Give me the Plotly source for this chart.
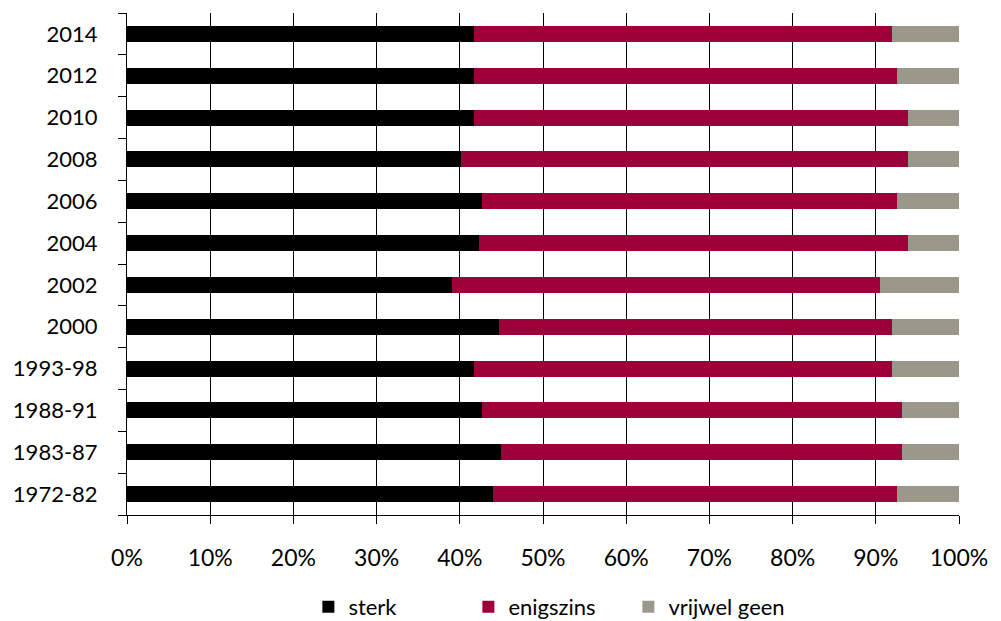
import plotly.graph_objects as go

categories = ["1972-82", "1983-87", "1988-91", "1993-98", "2000", "2002",
              "2004", "2006", "2008", "2010", "2012", "2014"]
sterk = [44.0, 45.0, 42.7, 41.7, 44.7, 39.1, 42.3, 42.7, 40.1, 41.7, 41.7, 41.7]
enigszins = [48.5, 48.2, 50.5, 50.2, 47.2, 51.4, 51.6, 49.8, 53.8, 52.2, 50.8, 50.2]
vrijwel_geen = [7.5, 6.8, 6.8, 8.1, 8.1, 9.5, 6.1, 7.5, 6.1, 6.1, 7.5, 8.1]

series = [("sterk", sterk, "#000000"),
          ("enigszins", enigszins, "#9E003A"),
          ("vrijwel geen", vrijwel_geen, "#9C978B")]

FONT = "Lato"

fig = go.Figure()
for name, vals, col in series:
    fig.add_trace(go.Bar(y=categories, x=vals, name=name, orientation="h",
                         marker=dict(color=col, line=dict(width=0))))

fig.update_layout(
    width=1001, height=621,
    barmode="stack", bargap=0.62,
    margin=dict(l=127, r=42, t=13, b=106, autoexpand=False),
    paper_bgcolor="white", plot_bgcolor="white",
    font=dict(family=FONT, size=22, color="black"),
    showlegend=True,
    legend=dict(orientation="h", x=0.218, xanchor="left", y=-0.183, yanchor="middle",
                font=dict(size=22), entrywidth=115, entrywidthmode="pixels",
                traceorder="normal"),
)
fig.update_xaxes(range=[0, 100], dtick=10, ticksuffix="%", showgrid=True,
                 gridcolor="black", gridwidth=1, showline=True, linecolor="black",
                 linewidth=1, ticks="outside", ticklen=8, tickcolor="black",
                 zeroline=False, fixedrange=True, tickfont=dict(size=23),
                 ticklabelstandoff=14)
fig.update_yaxes(type="category", categoryorder="array", categoryarray=categories,
                 tickson="boundaries", ticks="outside", ticklen=8, tickcolor="black",
                 showline=True, linecolor="black", linewidth=1, showgrid=False,
                 tickfont=dict(size=22), fixedrange=True, ticklabelstandoff=24)

fig.write_html("out.html")
